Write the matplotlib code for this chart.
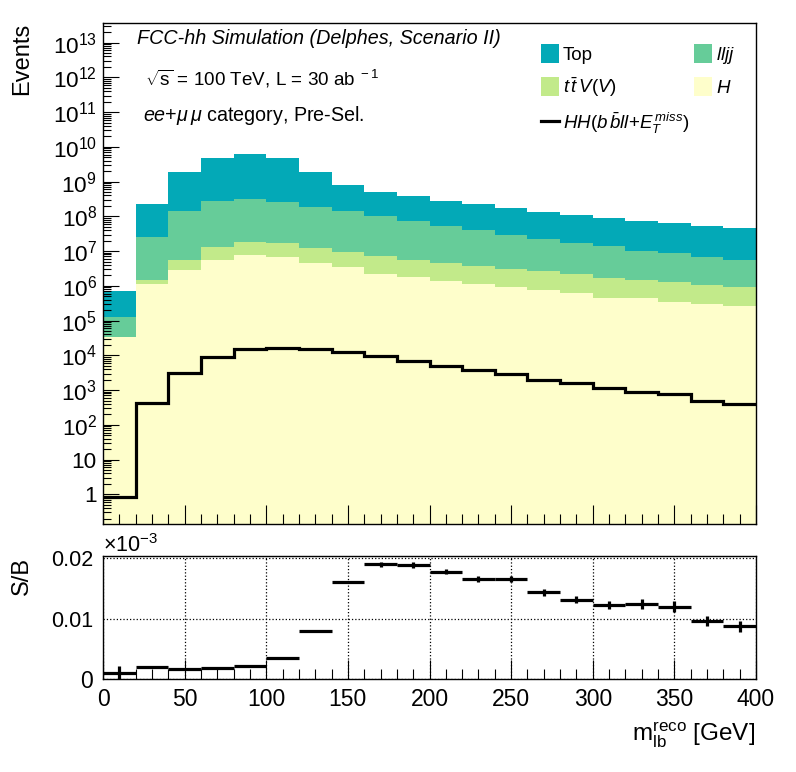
import numpy as np
import matplotlib
matplotlib.use('Agg')
import matplotlib.pyplot as plt
from matplotlib.ticker import FixedLocator, MultipleLocator, LogLocator, NullFormatter, FixedFormatter
from matplotlib.lines import Line2D
from matplotlib.patches import Patch

plt.rcParams['font.family'] = ['Liberation Sans', 'DejaVu Sans']
plt.rcParams['mathtext.fontset'] = 'custom'
plt.rcParams['mathtext.rm'] = 'Liberation Sans'
plt.rcParams['mathtext.it'] = 'Liberation Sans:italic'
plt.rcParams['mathtext.bf'] = 'Liberation Sans:bold'

# ---------------- data ----------------
bin_edges = [0, 20, 40, 60, 80, 100, 120, 140, 160, 180, 200,
             220, 240, 260, 280, 300, 320, 340, 360, 380, 400]

h_vals = [3.3e4, 1.13e6, 2.86e6, 5.5e6, 7.7e6, 6.6e6, 4.46e6, 3.42e6, 2.19e6, 1.84e6,
          1.41e6, 1.15e6, 9.5e5, 7.75e5, 6.35e5, 4.56e5, 4.56e5, 3.43e5, 3.0e5, 2.63e5]
ttv_vals = [0, 3.4e5, 2.64e6, 7.4e6, 1.06e7, 1.05e7, 8.0e6, 6.2e6, 5.0e6, 3.66e6,
            3.23e6, 2.65e6, 2.17e6, 1.96e6, 1.55e6, 1.22e6, 1.01e6, 9.5e5, 7.6e5, 6.7e5]
lljj_vals = [9.4e4, 2.4e7, 1.375e8, 2.64e8, 2.98e8, 2.48e8, 1.775e8, 1.334e8, 9.58e7, 6.95e7,
             4.94e7, 3.67e7, 2.66e7, 1.96e7, 1.49e7, 1.23e7, 8.5e6, 7.5e6, 5.74e6, 4.57e6]
top_vals = [5.83e5, 2.0e8, 1.72e9, 4.52e9, 5.93e9, 4.54e9, 1.67e9, 6.57e8, 3.9e8, 3.11e8,
            2.23e8, 1.865e8, 1.443e8, 1.117e8, 9.29e7, 7.58e7, 6.36e7, 5.57e7, 4.6e7, 4.08e7]
signal_vals = [0.82, 433, 3.04e3, 8.8e3, 1.49e4, 1.6e4, 1.49e4, 1.25e4, 9.4e3, 6.87e3,
               5.03e3, 3.71e3, 2.96e3, 1.95e3, 1.57e3, 1.15e3, 881, 771, 494, 390]

# S/B in units of 1e-3
ratio_vals = [0.0011, 0.0021, 0.00175, 0.0019, 0.00225, 0.0036, 0.0080, 0.0161, 0.0190, 0.01885,
              0.01775, 0.01655, 0.01655, 0.0144, 0.01315, 0.0123, 0.0125, 0.0120, 0.00965, 0.0088]
ratio_errs = [0.0011, 0.0001, 0.0001, 0.0001, 0.0001, 0.0001, 0.0001, 0.0002, 0.0004, 0.0005,
              0.0004, 0.0005, 0.0005, 0.0006, 0.0006, 0.0007, 0.0008, 0.0009, 0.0008, 0.0009]

labels = ['Top', r'$lljj$', r'$t\,\bar{t}\,V(V)$', r'$H$', r'$HH(b\,\bar{b}ll{+}E_{T}^{\,miss})$']
colors = {'Top': '#03A9B7', 'lljj': '#66CC99', 'ttV': '#C2EA8A', 'H': '#FEFECB'}

y_tick_vals = [10.0 ** n for n in range(0, 14)]
y_tick_labels = ['1', '10'] + [r'$10^{%d}$' % n for n in range(2, 14)]
x_tick_vals = [0, 50, 100, 150, 200, 250, 300, 350, 400]
x_tick_labels = ['0', '50', '100', '150', '200', '250', '300', '350', '400']
r_tick_vals = [0, 0.01, 0.02]
r_tick_labels = ['0', '0.01', '0.02']

# ---------------- figure ----------------
W, H = 796, 772
fig = plt.figure(figsize=(W / 100, H / 100), dpi=100)

def fx(px):
    return px / W

def fy(py):
    return 1 - py / H

ax = fig.add_axes([fx(103), fy(524.3), fx(756) - fx(103), fy(23.3) - fy(524.3)])
ax2 = fig.add_axes([fx(103), fy(679.3), fx(756) - fx(103), fy(556) - fy(679.3)])

edges = np.array(bin_edges, dtype=float)
hv = np.array(h_vals)
tv = np.array(ttv_vals)
lv = np.array(lljj_vals)
topv = np.array(top_vals)

c1 = hv
c2 = c1 + tv
c3 = c2 + lv
c4 = c3 + topv

ax.set_yscale('log')
ax.stairs(c1, edges, baseline=1e-3, fill=True, color=colors['H'], lw=0)
ax.stairs(c2, edges, baseline=c1, fill=True, color=colors['ttV'], lw=0)
ax.stairs(c3, edges, baseline=c2, fill=True, color=colors['lljj'], lw=0)
ax.stairs(c4, edges, baseline=c3, fill=True, color=colors['Top'], lw=0)
ax.stairs(np.array(signal_vals), edges, baseline=None, color='black', lw=2.3)

ax.set_xlim(0, 400)
ax.set_ylim(0.1369, 3.61e13)

ax.yaxis.set_major_locator(FixedLocator(y_tick_vals))
ax.yaxis.set_major_formatter(FixedFormatter(y_tick_labels))
ax.yaxis.set_minor_locator(LogLocator(base=10, subs=np.arange(2, 10), numticks=30))
ax.yaxis.set_minor_formatter(NullFormatter())
ax.xaxis.set_major_locator(FixedLocator(x_tick_vals))
ax.xaxis.set_minor_locator(MultipleLocator(10))
ax.tick_params(axis='x', which='both', direction='in', labelbottom=False, top=False, width=0.8)
ax.tick_params(axis='x', which='major', length=13.7)
ax.tick_params(axis='x', which='minor', length=7)
ax.tick_params(axis='y', which='both', direction='in', right=False, width=0.8, labelsize=16.2, pad=4.5)
ax.tick_params(axis='y', which='major', length=11.5)
ax.tick_params(axis='y', which='minor', length=5.8)
for s in ax.spines.values():
    s.set_linewidth(1.0)

# annotations
fig.text(fx(137), fy(44), 'FCC-hh Simulation (Delphes, Scenario II)', fontsize=14.2,
         style='italic', ha='left', va='baseline')
fig.text(fx(145), fy(85), r'$\sqrt{\mathrm{s}}$ = 100 TeV, L = 30 ab$^{\ -1}$', fontsize=13.6,
         ha='left', va='baseline')
fig.text(fx(143), fy(120.7), r'$ee{+}\mu\,\mu$ category, Pre-Sel.', fontsize=14.2,
         ha='left', va='baseline')

handles = [Patch(facecolor=colors['Top'], edgecolor='none'),
           Patch(facecolor=colors['ttV'], edgecolor='none'),
           Line2D([], [], color='black', lw=2.3),
           Patch(facecolor=colors['lljj'], edgecolor='none'),
           Patch(facecolor=colors['H'], edgecolor='none')]
leg_labels = [labels[0], labels[2], labels[4], labels[1], labels[3]]
ax.legend(handles, leg_labels, ncol=2, loc='upper left',
          bbox_to_anchor=((541 - 103) / 653, (524.3 - 44) / 501), frameon=False,
          fontsize=13.5, handlelength=0.95, handleheight=1.2, handletextpad=0.2,
          columnspacing=0.3, labelspacing=0.6, borderpad=0, borderaxespad=0)

fig.text(fx(22), fy(23), 'Events', rotation=90, fontsize=17, ha='center', va='top')

# ---------------- ratio ----------------
centers = 0.5 * (edges[:-1] + edges[1:])
halfw = 0.5 * np.diff(edges)
ax2.errorbar(centers, ratio_vals, xerr=halfw, yerr=ratio_errs, fmt='none',
             ecolor='black', elinewidth=2.3, capsize=0, zorder=3)
ax2.set_xlim(0, 400)
ax2.set_ylim(0, 0.02038)
ax2.xaxis.set_major_locator(FixedLocator(x_tick_vals))
ax2.xaxis.set_major_formatter(FixedFormatter(x_tick_labels))
ax2.xaxis.set_minor_locator(MultipleLocator(10))
ax2.yaxis.set_major_locator(FixedLocator(r_tick_vals))
ax2.yaxis.set_major_formatter(FixedFormatter(r_tick_labels))
ax2.tick_params(axis='x', which='both', direction='in', top=False, width=0.8, labelsize=16.5, pad=6)
ax2.tick_params(axis='x', which='major', length=13.7)
ax2.tick_params(axis='x', which='minor', length=7)
ax2.tick_params(axis='y', which='both', length=0, labelsize=15.5, pad=7)
ax2.yaxis.get_major_ticks()[0].label1.set_fontsize(16.5)
ax2.grid(True, which='major', axis='both', ls=':', color='black', lw=0.9)
for s in ax2.spines.values():
    s.set_linewidth(1.0)

fig.text(fx(103), fy(551.7), '×10' + r'$^{-3}$', fontsize=15.5, ha='left', va='baseline')
fig.text(fx(22), fy(557), 'S/B', rotation=90, fontsize=17, ha='center', va='top')
fig.text(fx(755), fy(742), r'm$_{\mathrm{lb}}^{\mathrm{reco}}$ [GeV]', fontsize=17.5,
         ha='right', va='baseline')

fig.savefig('out.png', dpi=100)
